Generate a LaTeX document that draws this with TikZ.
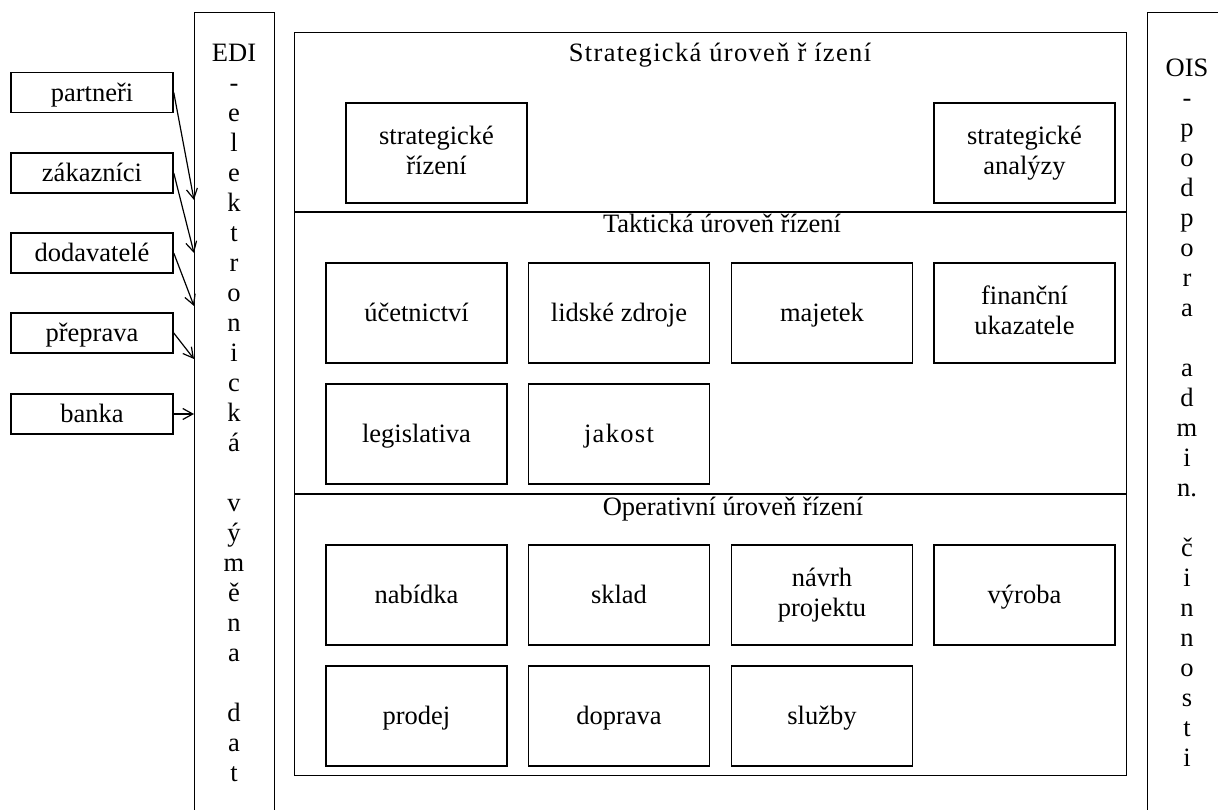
\documentclass[tikz,border=0pt]{standalone}
\usepackage{fontspec}
\setmainfont{Liberation Serif}
\usetikzlibrary{arrows.meta}
% line box of one text line: ascent 23.6pt, descent 5.7pt
\newcommand\linestrut{\rule[-5.7pt]{0pt}{29.3pt}}
\begin{document}
\begin{tikzpicture}[x=1pt, y=-1pt,
  every node/.style={font=\fontsize{26.5}{30}\selectfont, inner sep=0pt},
  boxed/.style={draw, line width=1.5pt, align=center,
    execute at begin node=\linestrut, execute at end node=\linestrut},
  unit/.style={boxed, minimum width=181pt, minimum height=100pt},
  party/.style={boxed, minimum width=162pt, minimum height=40pt},
  band/.style={draw, line width=1.4pt},
  feed/.style={-{Straight Barb[length=10pt,width=11pt]}, line width=1.2pt},
  levelline/.style={line width=1.4pt},
  vtext/.style={align=center, anchor=north},
  spaced/.style={font={\fontsize{26.5}{30}\selectfont\addfontfeature{LetterSpace=5}}}
]
\fill[white] (0,0) rectangle (1218,810);
\useasboundingbox (0,0) rectangle (1218,810);

% outside parties
\node[party] (p1) at (92,92.5) {partneři};
\node[party] (p2) at (92,173) {zákazníci};
\node[party] (p3) at (92,253) {dodavatelé};
\node[party] (p4) at (92,333) {přeprava};
\node[party] (p5) at (92,414) {banka};

% EDI column
\node[band, minimum width=80pt, minimum height=830pt, anchor=north west] (edi) at (194,12) {};
\node[vtext] (editext) at (234,43.5) {EDI\\-\\e\\l\\e\\k\\t\\r\\o\\n\\i\\c\\k\\á\\~\\v\\ý\\m\\ě\\n\\a\\~\\d\\a\\t};

% OIS column
\node[band, minimum width=80pt, minimum height=830pt, anchor=north west] (ois) at (1147,12) {};
\node[vtext] (oistext) at (1187,59) {OIS\\-\\p\\o\\d\\p\\o\\r\\a\\~\\a\\d\\m\\i\\n.\\~\\č\\i\\n\\n\\o\\s\\t\\i};

% arrows into the EDI column
\coordinate (in1) at (194,200);
\coordinate (in2) at (194,253);
\coordinate (in3) at (194,306);
\coordinate (in4) at (194,359);
\coordinate (in5) at (194,414);
\draw[feed] (p1.east) -- (in1);
\draw[feed] (p2.east) -- (in2);
\draw[feed] (p3.east) -- (in3);
\draw[feed] (p4.east) -- (in4);
\draw[feed] (p5.east) -- (in5);

% management levels frame
\node[band, minimum width=832pt, minimum height=743pt, anchor=north west] (frame) at (294,32) {};
\coordinate (d1l) at (294,212);
\coordinate (d1r) at (1126,212);
\coordinate (d2l) at (294,494);
\coordinate (d2r) at (1126,494);
\draw[levelline] (d1l) -- (d1r);
\draw[levelline] (d2l) -- (d2r);

% level titles
\node[anchor=base, spaced] (lev1) at (720,62) {Strategická úroveň ř ízení};
\node[anchor=base] (lev2) at (722,233) {Taktická úroveň řízení};
\node[anchor=base] (lev3) at (733,515) {Operativní úroveň řízení};

% strategic level
\node[unit] (sr) at (436.5,153) {strategické\\řízení};
\node[unit] (sa) at (1024.5,153) {strategické\\analýzy};

% tactical level
\node[unit] (t1) at (416.5,313) {účetnictví};
\node[unit] (t2) at (619,313) {lidské zdroje};
\node[unit] (t3) at (822,313) {majetek};
\node[unit] (t4) at (1024.5,313) {finanční\\ukazatele};
\node[unit] (t5) at (416.5,434) {legislativa};
\node[unit, spaced] (t6) at (619,434) {jakost};

% operational level
\node[unit] (o1) at (416.5,595) {nabídka};
\node[unit] (o2) at (619,595) {sklad};
\node[unit] (o3) at (822,595) {návrh\\projektu};
\node[unit] (o4) at (1024.5,595) {výroba};
\node[unit] (o5) at (416.5,716) {prodej};
\node[unit] (o6) at (619,716) {doprava};
\node[unit] (o7) at (822,716) {služby};
\end{tikzpicture}
\end{document}
